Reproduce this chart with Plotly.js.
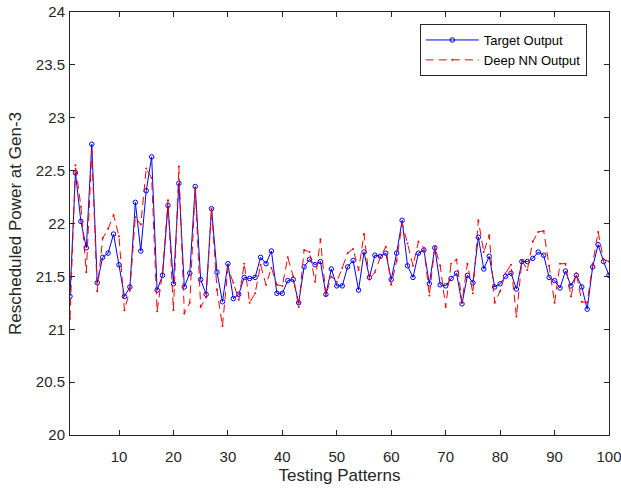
<!DOCTYPE html>
<html>
<head>
<meta charset="utf-8">
<script src="https://cdn.plot.ly/plotly-3.0.1.min.js"></script>
<style>html,body{margin:0;padding:0;background:#fff;}#chart{width:621px;height:489px;}</style>
</head>
<body>
<div id="chart"></div>
<script>
const patterns = Array.from({length: 100}, (_, i) => i + 1);
const targetOutput = [21.31, 22.48, 22.02, 21.77, 22.75, 21.44, 21.68, 21.72, 21.90, 21.61,
21.31, 21.40, 22.20, 21.74, 22.31, 22.63, 21.37, 21.51, 22.17, 21.43,
22.38, 21.40, 21.53, 22.35, 21.47, 21.33, 22.14, 21.54, 21.26, 21.62,
21.29, 21.33, 21.49, 21.48, 21.49, 21.68, 21.62, 21.74, 21.34, 21.34,
21.46, 21.47, 21.25, 21.59, 21.66, 21.61, 21.64, 21.33, 21.57, 21.41,
21.41, 21.59, 21.65, 21.37, 21.73, 21.49, 21.70, 21.69, 21.72, 21.47,
21.72, 22.03, 21.60, 21.49, 21.72, 21.75, 21.43, 21.77, 21.42, 21.41,
21.48, 21.53, 21.24, 21.51, 21.44, 21.87, 21.57, 21.69, 21.40, 21.43,
21.50, 21.53, 21.38, 21.64, 21.64, 21.67, 21.73, 21.70, 21.49, 21.46,
21.39, 21.55, 21.41, 21.51, 21.40, 21.19, 21.59, 21.80, 21.64, 21.51];
const deepNNOutput = [21.10, 22.55, 22.16, 21.54, 22.68, 21.36, 21.86, 21.95, 22.08, 21.88,
21.18, 21.37, 22.06, 21.99, 22.52, 22.43, 21.17, 21.54, 22.22, 21.18,
22.54, 21.15, 21.25, 22.33, 21.21, 21.30, 22.14, 21.37, 21.03, 21.58,
21.44, 21.28, 21.62, 21.25, 21.34, 21.61, 21.42, 21.58, 21.42, 21.41,
21.68, 21.50, 21.21, 21.75, 21.73, 21.45, 21.85, 21.32, 21.50, 21.45,
21.58, 21.72, 21.76, 21.56, 21.90, 21.47, 21.54, 21.68, 21.78, 21.42,
21.65, 22.00, 21.81, 21.60, 21.83, 21.77, 21.32, 21.78, 21.60, 21.21,
21.62, 21.66, 21.26, 21.62, 21.34, 22.03, 21.73, 21.89, 21.25, 21.36,
21.53, 21.61, 21.12, 21.65, 21.56, 21.83, 21.92, 21.93, 21.60, 21.25,
21.62, 21.62, 21.31, 21.53, 21.26, 21.25, 21.62, 21.92, 21.66, 21.64];
const xTicks = [10, 20, 30, 40, 50, 60, 70, 80, 90, 100];
const yTicks = [20, 20.5, 21, 21.5, 22, 22.5, 23, 23.5, 24];

const textColor = '#262626';
const fontFam = 'Liberation Sans, Arial, sans-serif';
const traces = [
  {
    x: patterns, y: targetOutput, name: 'Target Output', type: 'scatter', mode: 'lines+markers',
    line: {color: '#0000ff', width: 1},
    marker: {symbol: 'circle-open', size: 4.5, color: '#0000ff', line: {width: 1, color: '#0000ff'}}
  },
  {
    x: patterns, y: deepNNOutput, name: 'Deep NN Output', type: 'scatter', mode: 'lines+markers',
    line: {color: '#ff0000', width: 1, dash: '8px,5px'},
    marker: {symbol: 'circle', size: 2, color: '#ff0000'}
  }
];
const axisCommon = {
  showgrid: false, zeroline: false, showline: true, linecolor: textColor, linewidth: 1,
  mirror: 'ticks', ticks: 'inside', ticklen: 5, tickcolor: textColor, tickwidth: 1,
  tickfont: {family: fontFam, size: 15, color: textColor}, ticklabeloverflow: 'allow'
};
const layout = {
  width: 621, height: 489,
  margin: {l: 70, r: 12, t: 12, b: 54},
  paper_bgcolor: '#fff', plot_bgcolor: '#fff',
  showlegend: true,
  legend: {
    x: 0.649, y: 0.9716, xanchor: 'left', yanchor: 'top',
    bordercolor: textColor, borderwidth: 1, bgcolor: '#fff',
    font: {family: fontFam, size: 13, color: '#000'},
    tracegroupgap: 0, itemwidth: 53
  },
  xaxis: Object.assign({}, axisCommon, {
    range: [1, 100], tickvals: xTicks, ticktext: xTicks.map(String), ticklabelstandoff: 8,
    title: {text: 'Testing Patterns', font: {family: fontFam, size: 17, color: textColor}, standoff: 5}
  }),
  yaxis: Object.assign({}, axisCommon, {
    range: [20, 24], tickvals: yTicks, ticktext: yTicks.map(String), ticklabelstandoff: 1,
    title: {text: 'Rescheduled Power at Gen-3', font: {family: fontFam, size: 17, color: textColor}, standoff: 9}
  })
};
Plotly.newPlot('chart', traces, layout, {displayModeBar: false, staticPlot: true});
</script>
</body>
</html>
